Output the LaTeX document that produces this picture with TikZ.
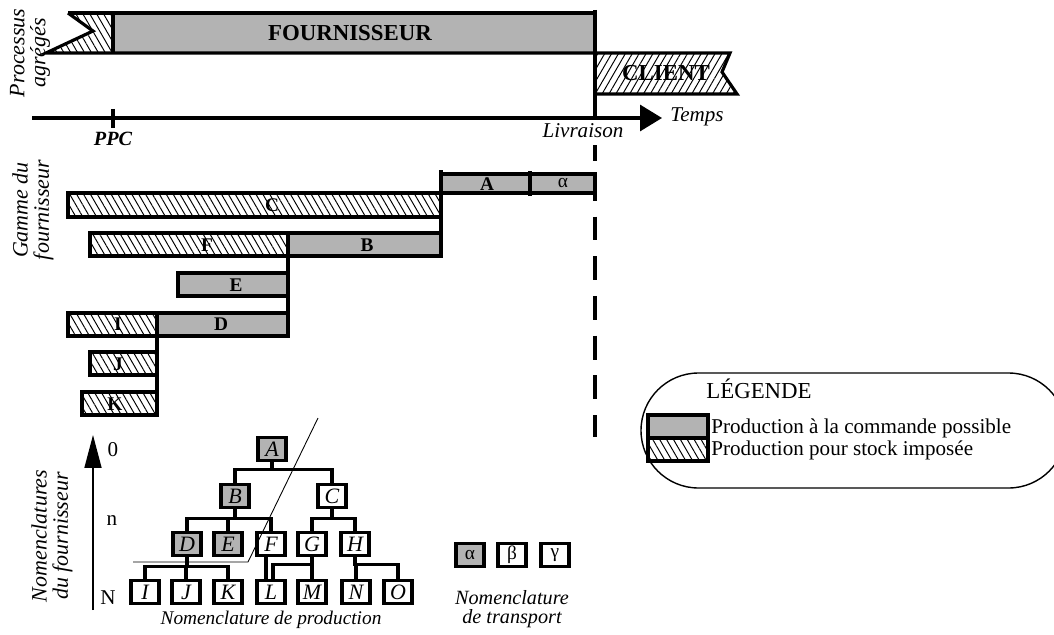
\documentclass[tikz,border=0pt]{standalone}
\usepackage{fontspec}
\setmainfont{Liberation Serif}
\usepackage{xcolor}
\definecolor{b3b3b3}{HTML}{b3b3b3}
\usepackage{tikz}
\usetikzlibrary{arrows.meta}
\usetikzlibrary{patterns.meta}

\begin{document}
\begin{tikzpicture}[x=0.02cm, y=-0.02cm,
        trait/.style={line width=1.8pt},
        fin/.style={line width=0.5pt},
        hach/.style={pattern={Lines[angle=-60, distance=3.4pt, line width=0.55pt]}},
        hachc/.style={pattern={Lines[angle=60, distance=3.4pt, line width=0.55pt]}},
        lettre/.style={inner sep=0pt, font=\fontsize{11}{11}\selectfont\bfseries},
        titre/.style={rotate=90, align=center, font=\fontsize{12.5}{12}\selectfont\itshape},
        nomen/.style={draw, line width=1.8pt, minimum width=0.56cm, minimum height=0.46cm, inner sep=0pt, font=\fontsize{12.5}{12.5}\selectfont\itshape},
        niveau/.style={font=\fontsize{12}{12}\selectfont}
    ]
            \useasboundingbox (0, 0) rectangle (1054, 635);

            \node[titre] (proc) at (30, 53) {Processus\\agrégés};
            \node[titre] (gamme) at (33, 210) {Gamme du\\fournisseur};
            \node[titre] (nomfourn) at (52, 536) {Nomenclatures\\du fournisseur};

            \fill[hach] (68, 13) -- (93, 31) -- (46, 53) -- (113, 53) -- (113, 13) -- cycle;
            \fill[b3b3b3] (113, 13) rectangle (595, 53);
            \draw[trait] (68, 13) -- (93, 31) -- (46, 53) -- (595, 53);
            \draw[trait] (68, 13) -- (595, 13);
            \draw[trait] (113, 13) -- (113, 53);
            \node[font=\fontsize{13}{13}\selectfont\bfseries] (fourn) at (350, 33) {FOURNISSEUR};

            \fill[hachc] (595, 53) -- (730, 53) -- (722, 72) -- (737, 94) -- (595, 94) -- cycle;
            \draw[trait] (595, 53) -- (730, 53) -- (722, 72) -- (737, 94) -- (595, 94);
            \node[font=\fontsize{13}{13}\selectfont\bfseries] (client) at (666, 73) {CLIENT};
            \draw[trait] (595, 10) -- (595, 118);

            \coordinate (t0) at (32, 118);
            \coordinate (t1) at (662, 118);
            \draw[trait, -{Triangle[length=0.44cm, width=0.52cm]}] (t0) -- (t1);
            \draw[trait] (113, 109) -- (113, 128);
            \node[font=\fontsize{11.5}{11.5}\selectfont\bfseries\itshape] (ppc) at (113, 139) {PPC};
            \node[font=\fontsize{12}{12}\selectfont\itshape] (livr) at (583, 131) {Livraison};
            \node[font=\fontsize{12}{12}\selectfont\itshape] (temps) at (697, 117) {Temps};
            \draw[trait, dash pattern=on 13.6pt off 9pt, dash phase=4.5pt] (595, 145) -- (595, 437);

            \fill[b3b3b3] (441, 174) rectangle (595, 193);
            \draw[trait] (441, 174) rectangle (595, 193);
            \draw[trait] (530, 171) -- (530, 196);
            \draw[trait] (441, 170) -- (441, 256);
            \node[lettre] (gA) at (487, 184) {A};
            \node[inner sep=0pt, font=\fontsize{11}{11}\selectfont] (galpha) at (563, 183) {α};

            \fill[hach] (68, 193) rectangle (441, 217);
            \draw[trait] (68, 193) rectangle (441, 217);
            \node[lettre] (gC) at (272, 205) {C};

            \fill[hach] (90, 233) rectangle (288, 256);
            \fill[b3b3b3] (288, 233) rectangle (441, 256);
            \draw[trait] (90, 233) rectangle (441, 256);
            \draw[trait] (288, 233) -- (288, 336);
            \node[lettre] (gF) at (207, 245) {F};
            \node[lettre] (gB) at (367, 245) {B};

            \fill[b3b3b3] (178, 273) rectangle (288, 296);
            \draw[trait] (178, 273) rectangle (288, 296);
            \node[lettre] (gE) at (236, 285) {E};

            \fill[hach] (68, 313) rectangle (157, 336);
            \fill[b3b3b3] (157, 313) rectangle (288, 336);
            \draw[trait] (68, 313) rectangle (288, 336);
            \draw[trait] (157, 313) -- (157, 415);
            \node[lettre] (gI) at (118, 324) {I};
            \node[lettre] (gD) at (221, 324) {D};

            \fill[hach] (90, 352) rectangle (157, 375);
            \draw[trait] (90, 352) rectangle (157, 375);
            \node[lettre] (gJ) at (118, 364) {J};

            \fill[hach] (82, 392) rectangle (157, 415);
            \draw[trait] (82, 392) rectangle (157, 415);
            \node[lettre] (gK) at (115, 404) {K};

            \draw[line width=0.8pt, rounded corners=1.15cm] (641, 373) rectangle (1066, 488);
            \node[anchor=base west, inner sep=0pt, font=\fontsize{13}{13}\selectfont] (leg) at (706, 398) {LÉGENDE};
            \fill[b3b3b3] (648, 415) rectangle (708, 438);
            \fill[hach] (648, 438) rectangle (708, 461);
            \draw[trait] (648, 415) rectangle (708, 461);
            \draw[trait] (648, 438) -- (708, 438);
            \node[anchor=base west, inner sep=0pt, font=\fontsize{12}{12}\selectfont] (cmd) at (711, 433) {Production à la commande possible};
            \node[anchor=base west, inner sep=0pt, font=\fontsize{12}{12}\selectfont] (stock) at (711, 455) {Production pour stock imposée};

            \draw[line width=1pt, -{Triangle[length=0.66cm, width=0.34cm]}] (93, 610) -- (93, 435);
            \node[niveau] (n0) at (113, 450) {0};
            \node[niveau] (nn) at (112, 521) {n};
            \node[niveau] (nN) at (108, 598) {N};

            \node[nomen, fill=b3b3b3] (A) at (272, 449) {A};
            \node[nomen, fill=b3b3b3] (B) at (235, 496) {B};
            \node[nomen] (C) at (332, 496) {C};
            \node[nomen, fill=b3b3b3] (D) at (187, 544) {D};
            \node[nomen, fill=b3b3b3] (E) at (228, 544) {E};
            \node[nomen] (F) at (271, 544) {F};
            \node[nomen] (G) at (312, 544) {G};
            \node[nomen] (H) at (355, 544) {H};
            \node[nomen] (I) at (145, 592) {I};
            \node[nomen] (J) at (186, 592) {J};
            \node[nomen] (K) at (228, 592) {K};
            \node[nomen] (L) at (271, 592) {L};
            \node[nomen] (M) at (312, 592) {M};
            \node[nomen] (N) at (356, 592) {N};
            \node[nomen] (O) at (398, 592) {O};

            \draw[trait] (A.south) -- ++(0, 7) -| (B.north);
            \draw[trait] (A.south) -- ++(0, 7) -| (C.north);
            \draw[trait] (B.south) -- ++(0, 9) -| (D.north);
            \draw[trait] (B.south) -- ++(0, 9) -| (E.north);
            \draw[trait] (B.south) -- ++(0, 9) -| (F.north);
            \draw[trait] (C.south) -- ++(0, 9) -| (G.north);
            \draw[trait] (C.south) -- ++(0, 9) -| (H.north);
            \draw[trait] (D.south) -- ++(0, 9) -| (I.north);
            \draw[trait] (D.south) -- ++(0, 9) -| (J.north);
            \draw[trait] (D.south) -- ++(0, 9) -| (K.north);
            \draw[trait] ([xshift=-0.1cm]F.south) -- ([xshift=-0.1cm]L.north);
            \draw[trait] (G.south) -- ++(0, 7) -| ([xshift=0.04cm]L.north);
            \draw[trait] (G.south) -- ++(0, 7) -| (M.north);
            \draw[trait] (H.south) -- ++(0, 7) -| (N.north);
            \draw[trait] (H.south) -- ++(0, 7) -| (O.north);

            \coordinate (cut0) at (133, 562);
            \coordinate (cut1) at (248, 562);
            \coordinate (cut2) at (318, 418);
            \draw[fin] (cut0) -- (cut1) -- (cut2);

            \node[font=\fontsize{11}{11}\selectfont\itshape] (prod) at (271, 620) {Nomenclature de production};

            \node[nomen, font=\fontsize{11}{11}\selectfont, fill=b3b3b3] (talpha) at (470, 555) {α};
            \node[nomen, font=\fontsize{11}{11}\selectfont] (tbeta) at (512, 555) {β};
            \node[nomen, font=\fontsize{11}{11}\selectfont] (tgamma) at (555, 555) {γ};
            \node[align=center, font=\fontsize{11.5}{10.5}\selectfont\itshape] (transp) at (512, 609) {Nomenclature\\de transport};
        \end{tikzpicture}
\end{document}
